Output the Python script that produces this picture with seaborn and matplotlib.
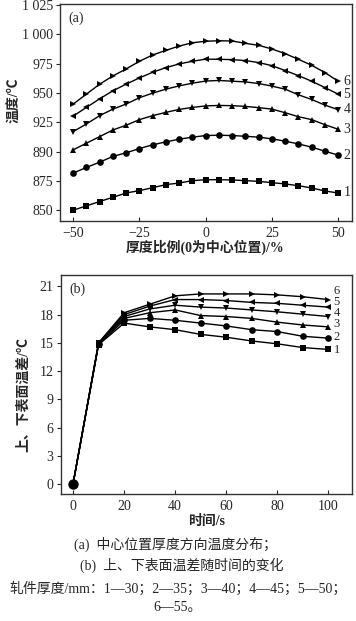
import numpy as np
import pandas as pd
import matplotlib
matplotlib.use("Agg")
import matplotlib.pyplot as plt
import seaborn as sns

# (a) temperature across thickness, x = -50..50 step 5
ratio = list(range(-50, 55, 5))
temp_1 = [850.0, 853.7, 857.4, 861.0, 864.7, 866.7, 869.2, 871.8, 873.2, 875.2, 876.0,
          876.0, 875.8, 875.2, 874.6, 873.5, 872.4, 870.9, 869.0, 866.4, 864.7]
temp_2 = [881.7, 886.5, 891.0, 895.9, 899.0, 902.6, 905.8, 908.3, 910.6, 912.3, 913.7,
          914.0, 913.7, 913.1, 912.3, 910.9, 908.9, 906.6, 903.8, 900.4, 897.0]
temp_3 = [901.5, 907.2, 912.8, 918.5, 922.5, 927.3, 930.7, 933.5, 936.0, 937.7, 939.0,
          939.4, 939.2, 938.6, 937.5, 936.3, 933.2, 929.8, 927.3, 923.0, 919.1]
temp_4 = [917.1, 923.6, 930.7, 936.3, 940.6, 946.0, 949.9, 953.3, 956.1, 958.4, 960.2,
          960.7, 960.1, 959.5, 958.1, 955.9, 953.3, 948.5, 944.5, 939.7, 935.8]
temp_5 = [930.4, 937.7, 945.1, 951.9, 957.6, 962.9, 967.7, 971.7, 974.8, 977.1, 978.9,
          978.8, 978.5, 977.7, 976.0, 973.4, 969.2, 964.9, 960.1, 954.7, 949.1]
temp_6 = [940.6, 949.1, 957.6, 964.6, 970.6, 977.1, 982.5, 986.4, 990.1, 992.9, 994.2,
          994.6, 994.4, 992.4, 990.7, 987.6, 983.6, 978.8, 973.7, 967.5, 960.1]
temp_ticks = [850, 875, 900, 925, 950, 975, 1000, 1025]
temp_tick_labels = ["850", "875", "890", "925", "950", "975", "1 000", "1 025"]

# (b) surface temperature difference over time
time_s = [0, 10, 20, 30, 40, 50, 60, 70, 80, 90, 100]
diff_1 = [0, 14.8, 17.1, 16.7, 16.4, 15.9, 15.6, 15.2, 14.9, 14.5, 14.3]
diff_2 = [0, 14.85, 17.4, 17.6, 17.4, 17.1, 16.8, 16.4, 16.2, 15.7, 15.5]
diff_3 = [0, 14.9, 17.6, 18.2, 18.5, 17.9, 17.8, 17.6, 17.2, 16.9, 16.7]
diff_4 = [0, 14.95, 17.8, 18.6, 19.0, 18.8, 18.7, 18.5, 18.3, 18.05, 17.8]
diff_5 = [0, 15.0, 18.0, 18.9, 19.6, 19.6, 19.5, 19.3, 19.2, 19.0, 18.8]
diff_6 = [0, 15.0, 18.2, 19.1, 20.0, 20.2, 20.2, 20.2, 20.1, 19.9, 19.6]

curve_names = ["1", "2", "3", "4", "5", "6"]
markers = ["s", "o", "^", "v", "<", ">"]

sns.set_style("ticks")
plt.rcParams["font.family"] = ["Liberation Serif", "Noto Sans CJK SC"]
plt.rcParams["axes.unicode_minus"] = True

fig = plt.figure(figsize=(3.56, 6.21), dpi=100)
ax1 = fig.add_axes([0.1685, 0.644, 0.8205, 0.3496])
ax2 = fig.add_axes([0.170, 0.2045, 0.819, 0.3525])

df_a = pd.DataFrame({"ratio": ratio, "1": temp_1, "2": temp_2, "3": temp_3,
                     "4": temp_4, "5": temp_5, "6": temp_6})
df_b = pd.DataFrame({"time": time_s, "1": diff_1, "2": diff_2, "3": diff_3,
                     "4": diff_4, "5": diff_5, "6": diff_6})

for name, mk in zip(curve_names, markers):
    sns.lineplot(data=df_a, x="ratio", y=name, ax=ax1, color="black", lw=1.0,
                 marker=mk, markersize=4.8, markeredgewidth=0, legend=False)
for name, mk in zip(curve_names, markers):
    sns.lineplot(data=df_b, x="time", y=name, ax=ax2, color="black", lw=1.0,
                 marker=mk, markersize=4.8, markeredgewidth=0, legend=False)
# the start point is drawn as a larger dot
ax2.plot(time_s[0], diff_2[0], "o", color="black", ms=6.5, zorder=5)

# curve numbers at the line ends
a_label_y = [864.7, 897.0, 919.1, 935.8, 949.1, 960.1]
for name, yv in zip(curve_names, a_label_y):
    ax1.text(52, yv, name, fontsize=10, va="center", ha="left")
b_label_y = [14.2, 15.6, 17.0, 18.2, 19.35, 20.5]
for name, yv in zip(curve_names, b_label_y):
    ax2.text(102, yv, name, fontsize=9, va="center", ha="left")

ax1.set_xlim(-55, 55.3)
ax1.set_ylim(840.7, 1026)
ax1.set_xticks([-50, -25, 0, 25, 50])
ax1.set_yticks(temp_ticks)
ax1.set_yticklabels(temp_tick_labels)
ax1.text(0.03, 0.965, "(a)", transform=ax1.transAxes, fontsize=10, va="top")

ax2.set_xlim(-4.9, 109.3)
ax2.set_ylim(-1.06, 22.2)
ax2.set_xticks([0, 20, 40, 60, 80, 100])
ax2.set_yticks([0, 3, 6, 9, 12, 15, 18, 21])
ax2.text(0.03, 0.965, "(b)", transform=ax2.transAxes, fontsize=10, va="top")

for ax in (ax1, ax2):
    ax.set_xlabel("")
    ax.set_ylabel("")
    for sp in ax.spines.values():
        sp.set_visible(True)
        sp.set_color("#333333")
        sp.set_linewidth(1.0)
    ax.tick_params(axis="x", direction="in", length=3, labelsize=10, pad=4)
    ax.tick_params(axis="y", direction="out", length=3, labelsize=10, pad=2)

fig.text(0.04, 0.838, "温度/℃", rotation=90, ha="center", va="center",
         fontsize=10, fontweight="bold")
fig.text(0.575, 0.602, "厚度比例(0为中心位置)/%", ha="center", va="center",
         fontsize=10, fontweight="bold")
fig.text(0.065, 0.364, "上、下表面温差/℃", rotation=90, ha="center", va="center",
         fontsize=10, fontweight="bold")
fig.text(0.58, 0.161, "时间/s", ha="center", va="center",
         fontsize=10, fontweight="bold")

fig.text(0.494, 0.124, "(a)  中心位置厚度方向温度分布；", ha="center", va="center", fontsize=10)
fig.text(0.51, 0.089, "(b)  上、下表面温差随时间的变化", ha="center", va="center", fontsize=10)
fig.text(0.5, 0.052, "轧件厚度/mm：1—30；2—35；3—40；4—45；5—50；",
         ha="center", va="center", fontsize=10)
fig.text(0.5, 0.021, "6—55。", ha="center", va="center", fontsize=10)

fig.savefig("out.png", dpi=100)
